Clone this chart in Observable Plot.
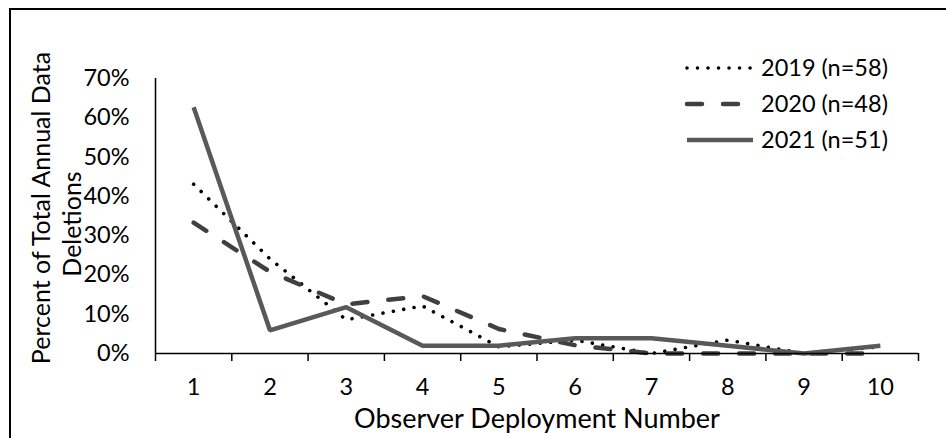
<!DOCTYPE html>
<html>
<head>
<meta charset="utf-8">
<script src="https://cdn.jsdelivr.net/npm/d3@7"></script>
<script src="https://cdn.jsdelivr.net/npm/@observablehq/plot@0.6"></script>
<style>
  html, body { margin: 0; padding: 0; background: #fff; }
  #wrap { position: relative; width: 946px; height: 438px; overflow: hidden; font-family: Lato, sans-serif; }
  #border { position: absolute; left: 9px; top: 8px; width: 2000px; height: 2000px; border-left: 2px solid #000; border-top: 2px solid #000; pointer-events: none; }
  #chart { position: absolute; left: 0; top: 0; }
  #legend { position: absolute; left: 0; top: 0; }
</style>
</head>
<body>
<div id="wrap"><div id="chart"></div><svg id="legend" width="946" height="438"></svg><div id="border"></div></div>
<script>
const deployments = [1, 2, 3, 4, 5, 6, 7, 8, 9, 10];
const pct2019 = [0.431, 0.241, 0.086, 0.121, 0.017, 0.034, 0, 0.034, 0, 0.017];
const pct2020 = [0.333, 0.208, 0.125, 0.146, 0.0625, 0.021, 0, 0, 0, 0];
const pct2021 = [0.627, 0.059, 0.118, 0.020, 0.020, 0.039, 0.039, 0.020, 0, 0.020];
const seriesNames = ["2019 (n=58)", "2020 (n=48)", "2021 (n=51)"];
const yTicks = [0, 0.1, 0.2, 0.3, 0.4, 0.5, 0.6, 0.7];
const xBoundaries = [0.5, 1.5, 2.5, 3.5, 4.5, 5.5, 6.5, 7.5, 8.5, 9.5, 10.5];
const yTitle = ["Percent of Total Annual Data", "Deletions"];
const xTitle = "Observer Deployment Number";

const styles = [
  {stroke: "#000000", strokeWidth: 3.6, strokeDasharray: "0.01 10.5", strokeLinecap: "round"},
  {stroke: "#404040", strokeWidth: 4.5, strokeDasharray: "15 21", strokeLinecap: "round"},
  {stroke: "#595959", strokeWidth: 4.5, strokeLinecap: "butt"}
];
const seriesValues = [pct2019, pct2020, pct2021];
const tables = seriesValues.map(vals => deployments.map((d, i) => ({x: d, y: vals[i]})));

const FONT = "Lato, sans-serif";
const FS = 23.5;      // tick labels & legend
const FSX = 27;       // x axis title
const FSY = 25;       // y axis title
const chart = Plot.plot({
  width: 946,
  height: 438,
  marginLeft: 155,
  marginRight: 28,
  marginTop: 78,
  marginBottom: 85,
  style: {fontFamily: FONT, fontSize: FS + "px", color: "#000", background: "transparent", overflow: "visible"},
  x: {type: "linear", domain: [0.5, 10.5], axis: null},
  y: {type: "linear", domain: [0, 0.7], axis: null},
  marks: [
    ...tables.map((t, i) => Plot.line(t, {x: "x", y: "y", ...styles[i], strokeLinejoin: "miter"})),
    Plot.ruleX([0.5], {y1: 0, y2: 0.7, stroke: "#000", strokeWidth: 1.5}),
    Plot.ruleY([0], {x1: 0.5, x2: 10.5, stroke: "#000", strokeWidth: 1.5}),
    Plot.ruleX(xBoundaries, {x: d => d, y1: 0, y2: 0, insetBottom: -8, stroke: "#000", strokeWidth: 1.5}),
    Plot.text(deployments, {x: d => d, y: 0, dy: 34, text: d => String(d), fontSize: FS, fill: "#000", lineAnchor: "middle"}),
    Plot.text(yTicks, {x: 0.5, y: d => d, dx: -26, text: d => Math.round(d * 100) + "%", textAnchor: "end", fontSize: FS, fill: "#000", lineAnchor: "middle"}),
    Plot.text([xTitle], {frameAnchor: "bottom", textAnchor: "middle", dy: 66, text: d => d, fontSize: FSX, fill: "#000", lineAnchor: "middle"}),
    Plot.text([yTitle[0]], {frameAnchor: "left", textAnchor: "middle", dx: -114, dy: -8, rotate: -90, text: d => d, fontSize: FSY, fill: "#000", lineAnchor: "middle"}),
    Plot.text([yTitle[1]], {frameAnchor: "left", textAnchor: "middle", dx: -83, dy: 8, rotate: -90, text: d => d, fontSize: FSY, fill: "#000", lineAnchor: "middle"})
  ]
});
document.getElementById("chart").appendChild(chart);

// legend
const legend = d3.select("#legend");
const rows = [68, 104, 140];
seriesNames.forEach((name, i) => {
  const s = styles[i];
  legend.append("line")
    .attr("x1", 687).attr("x2", 753).attr("y1", rows[i]).attr("y2", rows[i])
    .attr("stroke", s.stroke).attr("stroke-width", s.strokeWidth)
    .attr("stroke-dasharray", s.strokeDasharray || null)
    .attr("stroke-linecap", s.strokeLinecap);
  legend.append("text")
    .attr("x", 761).attr("y", rows[i]).attr("dy", "0.35em")
    .attr("font-family", FONT).attr("font-size", FS)
    .attr("fill", "#000").text(name);
});
</script>
</body>
</html>
